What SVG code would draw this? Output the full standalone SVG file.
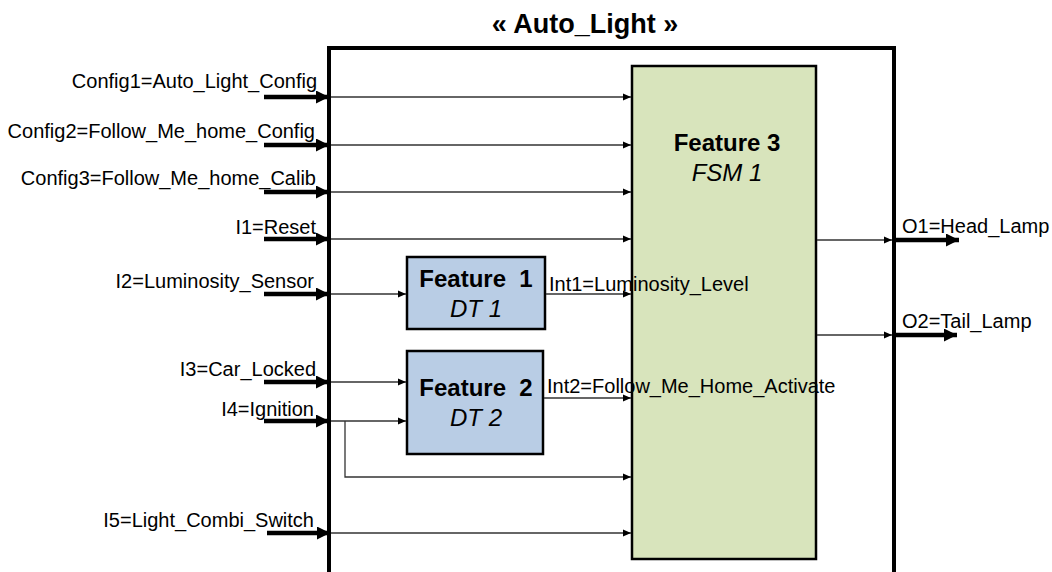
<svg xmlns="http://www.w3.org/2000/svg" width="1052" height="572" viewBox="0 0 1052 572">
<style>
text{font-family:"Liberation Sans",Arial,sans-serif;fill:#000}
.lbl{font-size:20px}
.lblL{font-size:20px;text-anchor:end}
.fb{font-size:24px;font-weight:bold;text-anchor:middle;white-space:pre}
.fi{font-size:24px;font-style:italic;text-anchor:middle}
.thin{stroke:#333;stroke-width:1.3;fill:none;marker-end:url(#sa)}
.thick{stroke:#000;stroke-width:4.5;fill:none;marker-end:url(#ba)}
.blue{fill:#B9CDE5;stroke:#000;stroke-width:2.5}
.green{fill:#D8E4BC;stroke:#000;stroke-width:2.5}
</style>
<defs>
<marker id="sa" markerWidth="8" markerHeight="8" viewBox="0 0 8 8" refX="8" refY="4" orient="auto" markerUnits="userSpaceOnUse"><path d="M0,0.5 L8,4 L0,7.5 Z" fill="#000"/></marker>
<marker id="ba" markerWidth="13" markerHeight="13" viewBox="0 0 13 13" refX="13" refY="6.5" orient="auto" markerUnits="userSpaceOnUse"><path d="M0,0 L13,6.5 L0,13 Z" fill="#000"/></marker>
</defs>
<rect width="1052" height="572" fill="#fff"/>
<g id="auto_light">
<path d="M329,580 V48 H894 V580" fill="none" stroke="#000" stroke-width="4"/>
<text x="585" y="33" style="font-size:27px;font-weight:bold;text-anchor:middle">« Auto_Light »</text>
</g>
<g id="feature1">
<rect class="blue" x="407" y="257" width="138" height="72"/>
<text class="fb" x="476" y="287">Feature  1</text>
<text class="fi" x="476" y="317">DT 1</text>
</g>
<g id="feature2">
<rect class="blue" x="407" y="351" width="136" height="103"/>
<text class="fb" x="476" y="396">Feature  2</text>
<text class="fi" x="476" y="426">DT 2</text>
</g>
<g id="feature3">
<rect class="green" x="632" y="66" width="184" height="493"/>
<text class="fb" x="727" y="151">Feature 3</text>
<text class="fi" x="727" y="181">FSM 1</text>
</g>
<g id="connectors">
<path class="thick" d="M264,97 H329"/>
<path class="thick" d="M264,145 H329"/>
<path class="thick" d="M264,192 H329"/>
<path class="thick" d="M264,239 H329"/>
<path class="thick" d="M264,294 H329"/>
<path class="thick" d="M264,382 H329"/>
<path class="thick" d="M264,421 H329"/>
<path class="thick" d="M267,533 H330"/>
<path class="thick" d="M894,240 H959"/>
<path class="thick" d="M894,335 H957"/>
<path class="thin" d="M331,97 H631"/>
<path class="thin" d="M331,145 H631"/>
<path class="thin" d="M331,192 H631"/>
<path class="thin" d="M331,239 H631"/>
<path class="thin" d="M331,294 H406"/>
<path class="thin" d="M331,382 H406"/>
<path class="thin" d="M331,421 H406"/>
<path class="thin" d="M345,421 V477 H631"/>
<path class="thin" d="M331,533 H631"/>
<path class="thin" d="M546,294 H631"/>
<path class="thin" d="M544,398 H631"/>
<path class="thin" d="M817,240 H892"/>
<path class="thin" d="M817,335 H892"/>
</g>
<g id="labels">
<text class="lblL" x="317" y="88">Config1=Auto_Light_Config</text>
<text class="lblL" x="315" y="138">Config2=Follow_Me_home_Config</text>
<text class="lblL" x="316" y="185">Config3=Follow_Me_home_Calib</text>
<text class="lblL" x="316" y="234">I1=Reset</text>
<text class="lblL" x="314" y="288">I2=Luminosity_Sensor</text>
<text class="lblL" x="316" y="376">I3=Car_Locked</text>
<text class="lblL" x="314" y="416">I4=Ignition</text>
<text class="lblL" x="314" y="527">I5=Light_Combi_Switch</text>
<text class="lbl" x="549" y="291">Int1=Luminosity_Level</text>
<text class="lbl" x="547" y="393">Int2=Follow_Me_Home_Activate</text>
<text class="lbl" x="902" y="233">O1=Head_Lamp</text>
<text class="lbl" x="902" y="328">O2=Tail_Lamp</text>
</g>
</svg>
